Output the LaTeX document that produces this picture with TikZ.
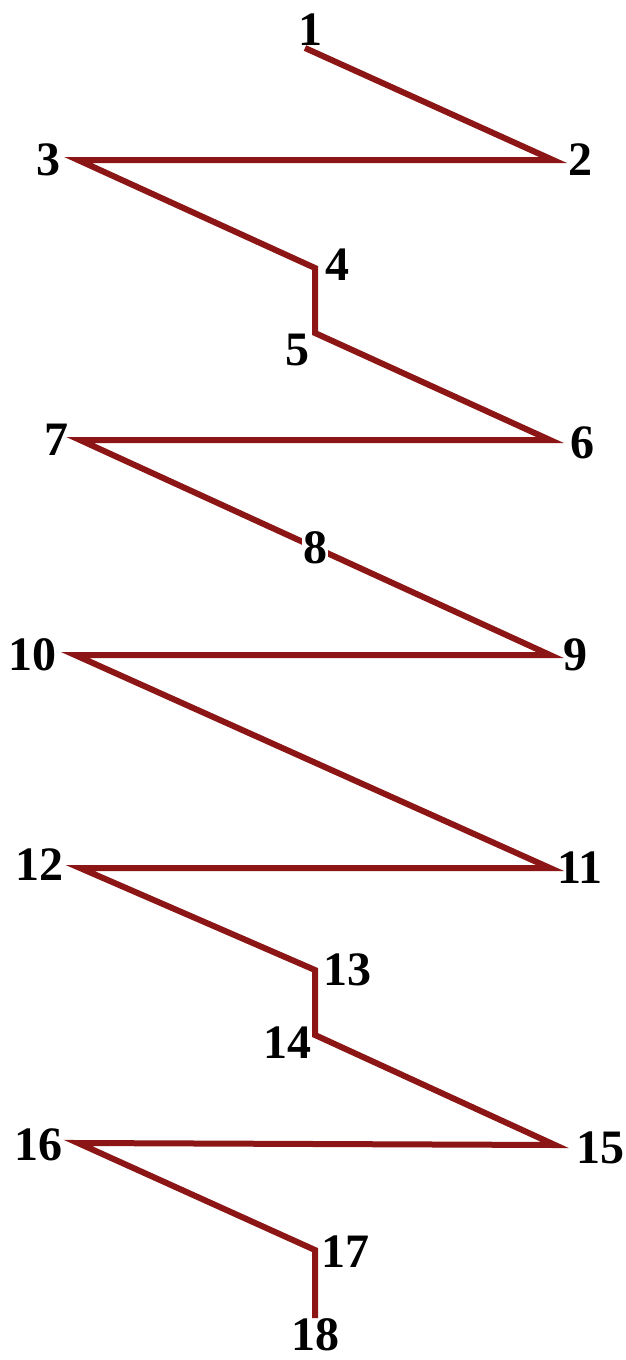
\documentclass[tikz,border=0pt]{standalone}
\usepackage{fontspec}
\setmainfont{Liberation Serif}
\usetikzlibrary{calc}
\definecolor{zig}{RGB}{140,22,22}
\begin{document}
\begin{tikzpicture}[x=1pt,y=-1pt,
  zigline/.style={draw=zig,line width=6pt,line join=miter},
  lbl/.style={font=\fontsize{48}{50}\selectfont\bfseries,inner sep=0pt,text=black}]
\useasboundingbox (0,0) rectangle (626,1360);
\coordinate (p1) at (305,48);
\coordinate (p2) at (553,160);
\coordinate (p3) at (78,160);
\coordinate (p4) at (315,268);
\coordinate (p5) at (315,333);
\coordinate (p6) at (550,440);
\coordinate (p7) at (80,440);
\coordinate (p9) at (550,655);
\coordinate (p10) at (75,655);
\coordinate (p11) at (550,868);
\coordinate (p12) at (80,868);
\coordinate (p13) at (315,970);
\coordinate (p14) at (315,1035);
\coordinate (p15) at (555,1145);
\coordinate (p16) at (78,1143);
\coordinate (p17) at (315,1250);
\coordinate (p18) at (315,1318);
\draw[zigline] (p1) -- (p2) -- (p3) -- (p4) -- (p5) -- (p6) -- (p7) -- (p9) -- (p10) -- (p11) -- (p12) -- (p13) -- (p14) -- (p15) -- (p16) -- (p17) -- (p18);
\node[lbl] (l1) at (310,30) {1};
\node[lbl] (l2) at (580,160) {2};
\node[lbl] (l3) at (48,160) {3};
\node[lbl] (l4) at (337,265) {4};
\node[lbl] (l5) at (297,350) {5};
\node[lbl] (l6) at (582,443) {6};
\node[lbl] (l7) at (56,440) {7};
\node[lbl,fill=white,inner sep=1pt] (l8) at ($(p7)!0.5!(p9)$) {8};
\node[lbl] (l9) at (575,655) {9};
\node[lbl] (l10) at (33,655) {10};
\node[lbl] (l11) at (580,868) {11};
\node[lbl] (l12) at (40,865) {12};
\node[lbl] (l13) at (347,970) {13};
\node[lbl] (l14) at (287,1043) {14};
\node[lbl] (l15) at (600,1148) {15};
\node[lbl] (l16) at (38,1145) {16};
\node[lbl] (l17) at (345,1252) {17};
\node[lbl] (l18) at (315,1335) {18};
\end{tikzpicture}
\end{document}
